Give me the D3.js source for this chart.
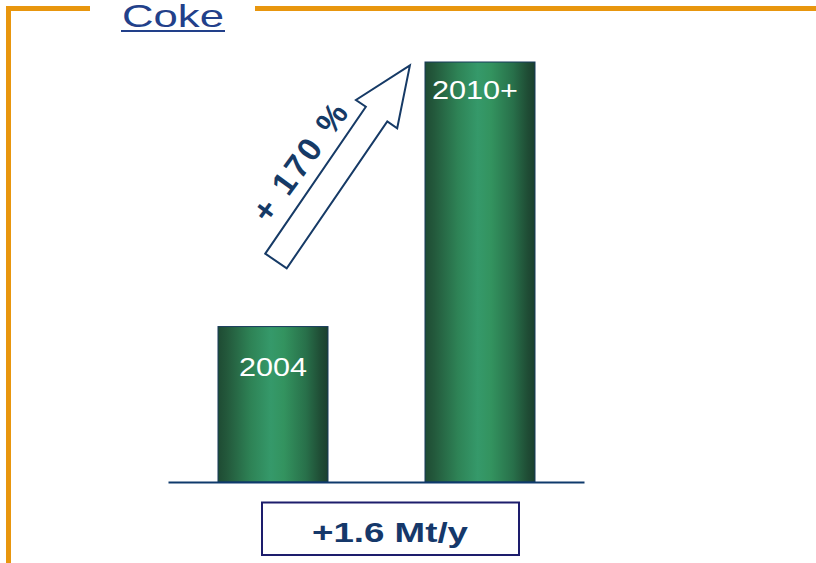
<!DOCTYPE html>
<html>
<head>
<meta charset="utf-8">
<script src="https://cdn.jsdelivr.net/npm/d3@7/dist/d3.min.js"></script>
<style>
  html, body { margin: 0; padding: 0; background: #ffffff; }
  svg { display: block; }
</style>
</head>
<body>
<svg id="chart" width="816" height="563"></svg>
<script>
// Coke production capacity, Mt/y
const categories = ["2004", "2010+"];
const values = [0.94, 2.54];
const titleText = "Coke";
const growthLabel = "+ 170 %";
const deltaLabel = "+1.6 Mt/y";

const svg = d3.select("#chart");
const W = 816, H = 563;
const navy = "#163a66";
const orange = "#e8960e";

// bar gradient: dark edges, light centre (cylinder look)
const defs = svg.append("defs");
const grad = defs.append("linearGradient").attr("id", "barGrad")
  .attr("x1", "0%").attr("x2", "100%").attr("y1", "0%").attr("y2", "0%");
[
  [0, "#1e4b33"], [0.08, "#23583b"], [0.3, "#2e8356"], [0.48, "#35996a"],
  [0.6, "#33935f"], [0.8, "#28704a"], [0.93, "#1f4d35"], [1, "#1b3f2e"]
].forEach(([o, c]) => grad.append("stop").attr("offset", o).attr("stop-color", c));

// orange frame with gap for the title
svg.append("path")
  .attr("d", `M8.5,${H} V8.5 H90 M255,8.5 H${W}`)
  .attr("fill", "none").attr("stroke", orange).attr("stroke-width", 5);

// title with underline
svg.append("text")
  .attr("x", 122).attr("y", 26.5)
  .attr("font-family", "Liberation Sans, Arial, sans-serif")
  .attr("font-size", 30.5)
  .attr("fill", "#22408a")
  .attr("textLength", 102).attr("lengthAdjust", "spacingAndGlyphs")
  .text(titleText);
svg.append("line")
  .attr("x1", 121).attr("x2", 225).attr("y1", 31).attr("y2", 31)
  .attr("stroke", "#22408a").attr("stroke-width", 2);

// scales
const x = d3.scaleBand().domain(categories)
  .range([169, 584]).paddingInner(0.4686).paddingOuter(0.2367);
const y = d3.scaleLinear().domain([0, d3.max(values)]).range([482, 62]);

// bars
svg.selectAll("rect.bar").data(values).join("rect")
  .attr("class", "bar")
  .attr("x", (d, i) => x(categories[i]))
  .attr("y", d => y(d))
  .attr("width", x.bandwidth())
  .attr("height", d => y(0) - y(d))
  .attr("fill", "url(#barGrad)")
  .attr("stroke", "#173a5a").attr("stroke-width", 1);

// bar labels
svg.selectAll("text.lbl").data(values).join("text")
  .attr("class", "lbl")
  .attr("x", (d, i) => x(categories[i]) + x.bandwidth() / 2 - (i ? 5 : 0))
  .attr("y", (d, i) => y(d) + (i ? 37 : 49))
  .attr("text-anchor", "middle")
  .attr("font-family", "Liberation Sans, Arial, sans-serif")
  .attr("font-size", 25.5)
  .attr("fill", "#ffffff")
  .attr("textLength", (d, i) => i ? 86 : 68)
  .attr("lengthAdjust", "spacingAndGlyphs")
  .text((d, i) => categories[i]);

// baseline
svg.append("line")
  .attr("x1", 168.5).attr("x2", 584.5).attr("y1", y(0) + 0.5).attr("y2", y(0) + 0.5)
  .attr("stroke", "#0f3a6c").attr("stroke-width", 2);

// growth arrow (outline), drawn along its own axis then rotated into place
const arrowLen = 237, shaftHalf = 13, headHalf = 25, headLen = 59;
const arrowPts = [
  [0, -shaftHalf], [arrowLen - headLen, -shaftHalf], [arrowLen - headLen, -headHalf],
  [arrowLen, 0], [arrowLen - headLen, headHalf], [arrowLen - headLen, shaftHalf],
  [0, shaftHalf]
];
svg.append("polygon")
  .attr("points", arrowPts.map(p => p.join(",")).join(" "))
  .attr("transform", "translate(276,261) rotate(-55.6)")
  .attr("fill", "#ffffff").attr("stroke", navy).attr("stroke-width", 2)
  .attr("stroke-linejoin", "miter");

svg.append("text")
  .attr("transform", "translate(309,169) rotate(-54)")
  .attr("text-anchor", "middle")
  .attr("font-family", "Liberation Sans, Arial, sans-serif")
  .attr("font-weight", "bold")
  .attr("font-size", 33)
  .attr("fill", navy)
  .attr("textLength", 138).attr("lengthAdjust", "spacing")
  .text(growthLabel);

// delta box
svg.append("rect")
  .attr("x", 262).attr("y", 502.5).attr("width", 257).attr("height", 52.5)
  .attr("fill", "#ffffff").attr("stroke", "#1d1d6c").attr("stroke-width", 2);
svg.append("text")
  .attr("x", 390).attr("y", 542)
  .attr("text-anchor", "middle")
  .attr("font-family", "Liberation Sans, Arial, sans-serif")
  .attr("font-weight", "bold")
  .attr("font-size", 28)
  .attr("fill", "#15386a")
  .attr("textLength", 156).attr("lengthAdjust", "spacingAndGlyphs")
  .text(deltaLabel);
</script>
</body>
</html>
